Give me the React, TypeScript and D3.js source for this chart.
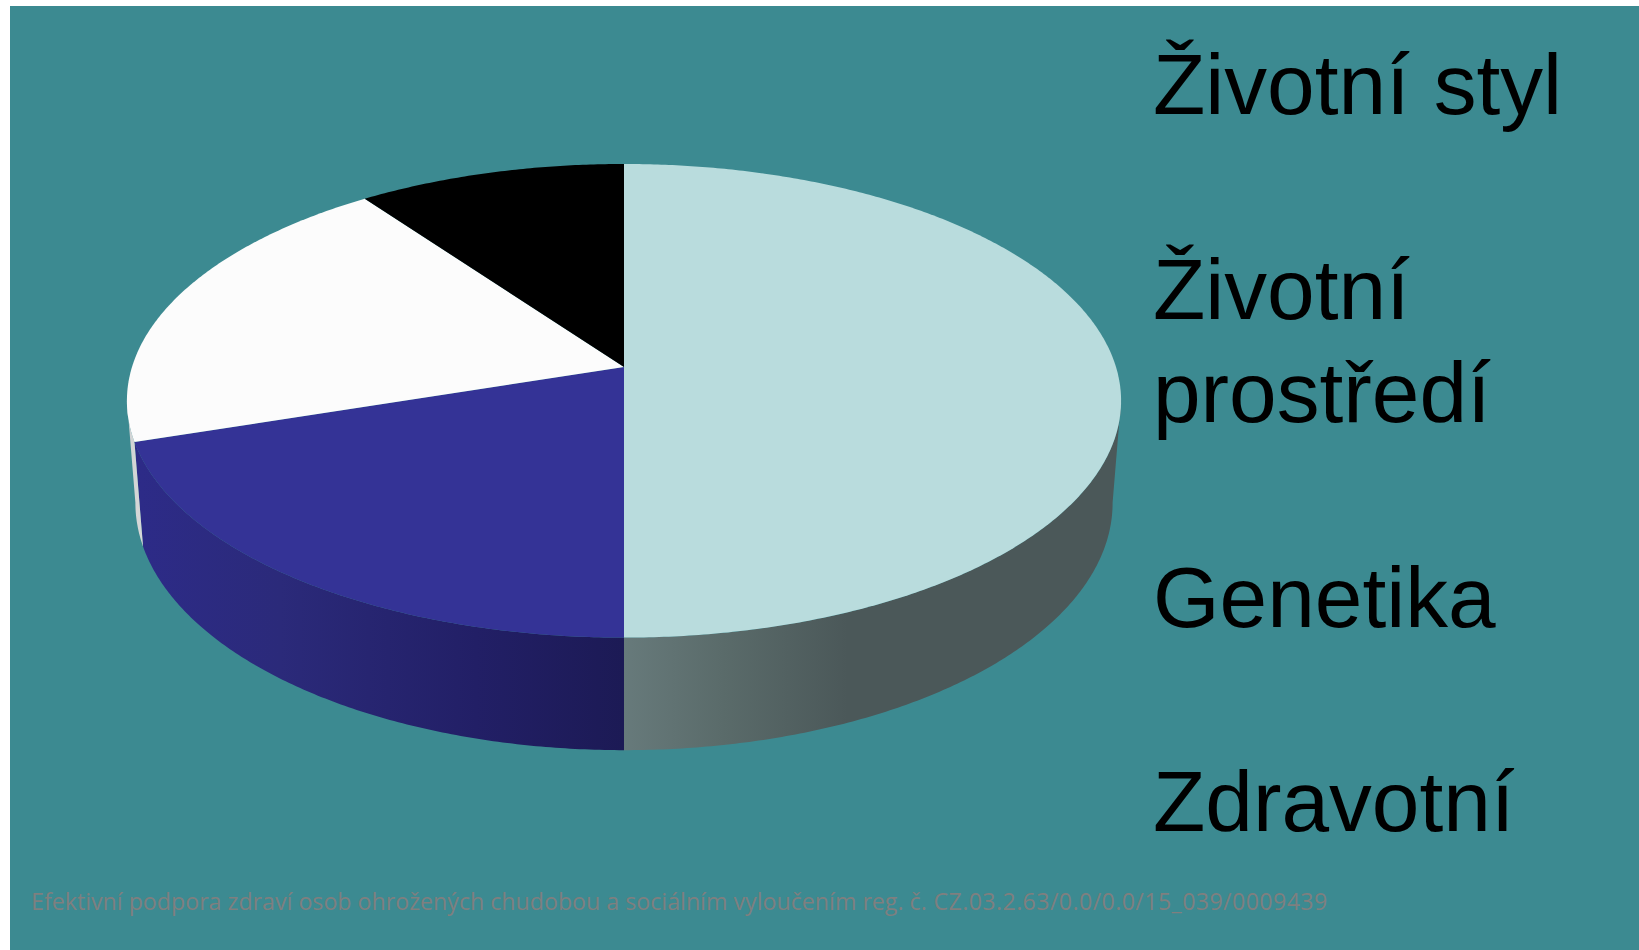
import React, { useEffect, useRef } from "react";
import * as d3 from "d3";

const categories = ["Životní styl", "Životní prostředí", "Genetika", "Zdravotní"];
const values = [50, 20, 20, 10];
const topColors = ["#b9dcdd", "#343396", "#fcfcfc", "#000000"];
const legendLines = [["Životní styl"], ["Životní", "prostředí"], ["Genetika"], ["Zdravotní"]];
const legendBaselines = [[114], [319, 422], [627], [831]];
const footerText = "Efektivní podpora zdraví osob ohrožených chudobou a sociálním vyloučením reg. č. ";
const footerCode = "CZ.03.2.63/0.0/0.0/15_039/0009439";

// perspective of the disc, worked out from the picture
const cx = 624, cy = 367;
const kx = 492, ky = 232, kz = 103, persp = -0.1427, perspZ = 0.017;

function project(angle: number, z: number): [number, number] {
  const u = Math.sin(angle), v = -Math.cos(angle);
  const w = 1 + persp * v + perspZ * z;
  return [cx + (kx * u) / w, cy + (ky * v + kz * z) / w];
}

const rad = (deg: number) => (deg * Math.PI) / 180;

export default function App() {
  const ref = useRef<SVGSVGElement>(null);

  useEffect(() => {
    const svg = d3.select(ref.current);
    svg.selectAll("*").remove();

    svg.append("rect").attr("x", 10).attr("y", 6).attr("width", 1629).attr("height", 944).attr("fill", "#3c8a91");

    const defs = svg.append("defs");
    const addGrad = (id: string, x1: number, x2: number, stops: [number, string][]) => {
      const g = defs.append("linearGradient").attr("id", id).attr("gradientUnits", "userSpaceOnUse")
        .attr("x1", x1).attr("x2", x2).attr("y1", 0).attr("y2", 0);
      stops.forEach(s => g.append("stop").attr("offset", s[0]).attr("stop-color", s[1]));
    };
    addGrad("wall0", 624, 1120, [[0, "#677a7b"], [0.2, "#5a6b6a"], [0.45, "#4b5859"], [1, "#4b5859"]]);
    addGrad("wall1", 133, 624, [[0, "#2d2b88"], [0.3, "#2b2a7a"], [0.7, "#221f66"], [1, "#1c1a55"]]);
    addGrad("wall2", 126, 146, [[0, "#cfd3d4"], [1, "#d8d8d8"]]);

    const pie = d3.pie<number>().sort(null).startAngle(0).endAngle(2 * Math.PI);
    const arcs = pie(values);
    const line = d3.line();

    const ring = (a0: number, a1: number, z: number) => {
      const n = Math.ceil((a1 - a0) / rad(0.5));
      return d3.range(n + 1).map(i => project(a0 + ((a1 - a0) * i) / n, z));
    };

    // drum wall runs between the two silhouette angles
    const wallFrom = rad(98), wallTo = rad(262);
    arcs.forEach((a, i) => {
      const a0 = Math.max(a.startAngle, wallFrom), a1 = Math.min(a.endAngle, wallTo);
      if (a1 <= a0) return;
      const pts = ring(a0, a1, 0).concat(ring(a0, a1, 1).reverse());
      svg.append("path").attr("d", line(pts) + "Z").attr("fill", `url(#wall${i})`);
    });

    arcs.forEach((a, i) => {
      const pts = ([[cx, cy]] as [number, number][]).concat(ring(a.startAngle, a.endAngle, 0));
      svg.append("path").attr("d", line(pts) + "Z").attr("fill", topColors[i]);
    });

    categories.forEach((c, i) => {
      const t = svg.append("g").attr("class", "legend").attr("aria-label", c);
      legendLines[i].forEach((l, j) => {
        t.append("text").attr("x", 1153).attr("y", legendBaselines[i][j])
          .attr("font-family", "'Liberation Sans'").attr("font-size", 85.6).attr("fill", "#000").text(l);
      });
    });

    const foot = svg.append("text").attr("y", 910)
      .attr("font-family", "'Open Sans'").attr("font-size", 23.2).attr("fill", "#7f7f7f");
    foot.append("tspan").attr("x", 31).text(footerText);
    foot.append("tspan").attr("x", 933.5).attr("letter-spacing", 0.4).text(footerCode);
  }, []);

  return <svg ref={ref} width={1639} height={950} style={{ position: "absolute", left: 0, top: 0 }} />;
}
